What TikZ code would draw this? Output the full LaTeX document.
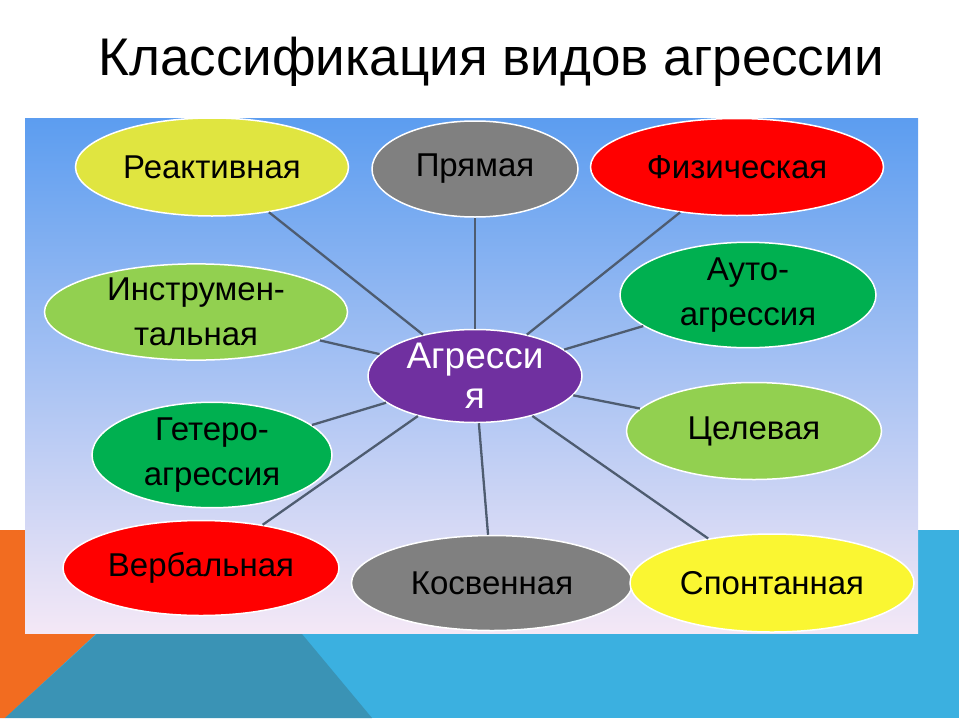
\documentclass[tikz,border=0pt]{standalone}
\usepackage{fontspec}
\setmainfont{Liberation Sans}
\usetikzlibrary{shapes.geometric}

\definecolor{bgblue}{RGB}{59,176,224}
\definecolor{bgteal}{RGB}{58,147,181}
\definecolor{bgorange}{RGB}{242,108,32}
\definecolor{paneltop}{RGB}{92,157,240}
\definecolor{panelmid}{RGB}{158,200,243}
\definecolor{panelbot}{RGB}{244,232,246}
\definecolor{linkgray}{RGB}{78,92,112}
\definecolor{ylgreen}{RGB}{224,229,64}
\definecolor{ltgreen}{RGB}{146,208,80}
\definecolor{dkgreen}{RGB}{0,176,80}
\definecolor{aggray}{RGB}{128,128,128}
\definecolor{agred}{RGB}{255,0,0}
\definecolor{agyellow}{RGB}{250,246,50}
\definecolor{agpurple}{RGB}{112,48,160}

\begin{document}
\begin{tikzpicture}[
x=1pt, y=-1pt,
bubble/.style={ellipse, draw=white, line width=1.5pt, inner sep=0pt, align=center,
  font=\fontsize{33}{45}\selectfont},
link/.style={draw=linkgray, line width=2.3pt}
]
\useasboundingbox (0,0) rectangle (960,720);

% backdrop
\fill[bgblue] (0,530) rectangle (959,718);
\fill[bgorange] (0,530) -- (208,530) -- (5,718) -- (0,718) -- cycle;
\fill[bgteal] (97,634) -- (302,634) -- (372,718) -- (5,718) -- cycle;
\shade[top color=paneltop, middle color=panelmid, bottom color=panelbot] (25,118) rectangle (918,633);

% title
\node (title) at (491,62) {\fontsize{53}{56}\selectfont Классификация видов агрессии};

% centre
\node[bubble, fill=agpurple, text=white, minimum width=214, minimum height=93,
  font=\fontsize{37}{40}\selectfont] (agr) at (475,376) {Агресси\\я};

% kinds
\node[bubble, fill=ylgreen, minimum width=273, minimum height=98] (reakt) at (212,167) {Реактивная};
\node[bubble, fill=aggray, minimum width=206, minimum height=96] (pryam) at (475,169) {Прямая};
\node[bubble, fill=agred, minimum width=293, minimum height=97] (fiz) at (737,167) {Физическая};
\node[bubble, fill=ltgreen, minimum width=303, minimum height=96] (instr) at (196,312) {Инструмен-\\тальная};
\node[bubble, fill=dkgreen, minimum width=256, minimum height=97] (auto) at (748,295) {Ауто-\\агрессия};
\node[bubble, fill=dkgreen, minimum width=240, minimum height=95] (geter) at (212,455) {Гетеро-\\агрессия};
\node[bubble, fill=ltgreen, minimum width=255, minimum height=97] (tsel) at (754,431) {Целевая};
\node[bubble, fill=agred, minimum width=276, minimum height=95] (verb) at (201,568) {Вербальная};
\node[bubble, fill=aggray, minimum width=281, minimum height=95] (kosv) at (492,583) {Косвенная};
\node[bubble, fill=agyellow, minimum width=284, minimum height=98] (spont) at (772,583) {Спонтанная};

% links
\foreach \k in {reakt,pryam,fiz,instr,auto,geter,tsel,verb,kosv,spont}
  \draw[link] (agr) -- (\k);

\end{tikzpicture}
\end{document}
